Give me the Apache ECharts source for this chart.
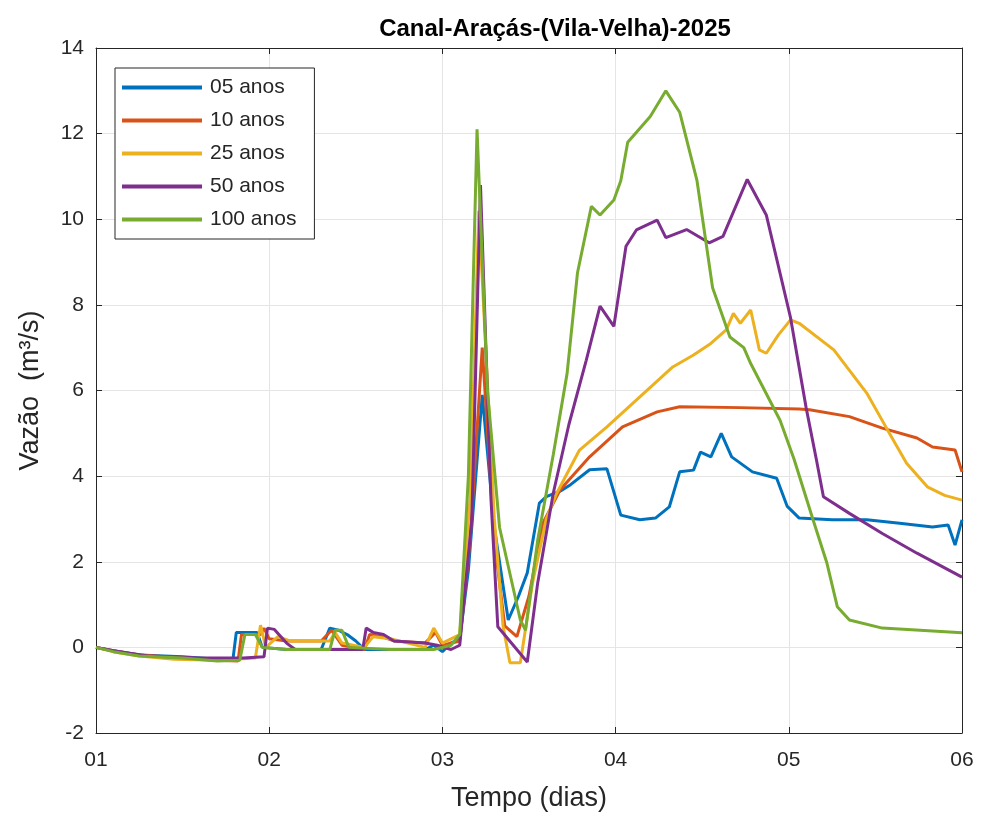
<!DOCTYPE html>
<html>
<head>
<meta charset="utf-8">
<script src="https://cdn.jsdelivr.net/npm/echarts@6/dist/echarts.min.js"></script>
<style>
  html, body { margin: 0; padding: 0; background: #fff; }
  #chart { width: 981px; height: 818px; }
</style>
</head>
<body>
<div id="chart"></div>
<script>
// dados: [dia, vazão m3/s]
var xTicks = [1, 2, 3, 4, 5, 6];
var yTicks = [-2, 0, 2, 4, 6, 8, 10, 12, 14];
var names = ['05 anos', '10 anos', '25 anos', '50 anos', '100 anos'];

var tr05 = [[1.00,0.00],[1.10,-0.08],[1.25,-0.18],[1.50,-0.22],[1.70,-0.28],[1.79,-0.30],[1.81,0.35],[1.93,0.35],[1.96,0.00],[2.10,-0.05],[2.30,-0.05],[2.35,0.45],[2.40,0.40],[2.45,0.30],[2.50,0.15],[2.55,-0.05],[2.70,-0.05],[2.90,-0.05],[2.95,0.05],[3.00,-0.10],[3.05,0.10],[3.10,0.20],[3.15,1.80],[3.23,5.90],[3.30,2.80],[3.38,0.64],[3.44,1.20],[3.49,1.74],[3.56,3.37],[3.60,3.52],[3.68,3.65],[3.74,3.80],[3.85,4.15],[3.95,4.17],[4.03,3.09],[4.14,2.98],[4.23,3.02],[4.31,3.28],[4.37,4.10],[4.45,4.14],[4.49,4.56],[4.55,4.45],[4.61,5.00],[4.67,4.45],[4.79,4.10],[4.93,3.95],[4.99,3.30],[5.06,3.02],[5.25,2.98],[5.45,2.98],[5.64,2.90],[5.83,2.81],[5.92,2.86],[5.96,2.39],[6.00,2.98]];
var tr10 = [[1.00,0.00],[1.10,-0.08],[1.25,-0.18],[1.50,-0.24],[1.70,-0.30],[1.82,-0.32],[1.84,0.30],[1.95,0.30],[1.97,0.45],[2.00,0.20],[2.10,0.15],[2.30,0.15],[2.36,0.40],[2.42,0.05],[2.55,-0.05],[2.58,0.30],[2.65,0.25],[2.72,0.15],[2.90,0.10],[2.96,0.35],[3.00,0.05],[3.10,0.15],[3.16,2.50],[3.23,7.00],[3.30,2.50],[3.36,0.50],[3.43,0.25],[3.50,1.20],[3.58,2.90],[3.68,3.68],[3.85,4.45],[4.04,5.15],[4.24,5.50],[4.37,5.62],[4.72,5.60],[5.06,5.57],[5.12,5.55],[5.35,5.39],[5.54,5.12],[5.74,4.89],[5.83,4.68],[5.96,4.61],[6.00,4.10]];
var tr25 = [[1.00,0.00],[1.10,-0.10],[1.25,-0.20],[1.45,-0.28],[1.70,-0.30],[1.92,-0.25],[1.95,0.52],[1.98,0.00],[2.05,0.25],[2.12,0.15],[2.35,0.15],[2.38,0.35],[2.42,0.10],[2.55,0.00],[2.60,0.25],[2.70,0.20],[2.80,0.10],[2.90,0.00],[2.95,0.45],[3.00,0.10],[3.10,0.30],[3.16,3.50],[3.21,10.2],[3.30,3.00],[3.35,0.50],[3.39,-0.36],[3.45,-0.36],[3.52,1.50],[3.60,3.00],[3.66,3.60],[3.79,4.60],[3.95,5.15],[4.14,5.85],[4.33,6.55],[4.45,6.83],[4.55,7.10],[4.64,7.42],[4.68,7.80],[4.72,7.57],[4.78,7.88],[4.83,6.95],[4.87,6.87],[4.94,7.30],[5.01,7.65],[5.06,7.57],[5.26,6.95],[5.45,5.94],[5.57,5.08],[5.68,4.30],[5.80,3.75],[5.90,3.55],[6.00,3.44]];
var tr50 = [[1.00,0.00],[1.10,-0.08],[1.30,-0.20],[1.60,-0.25],[1.85,-0.25],[1.97,-0.22],[1.99,0.45],[2.03,0.42],[2.10,0.10],[2.15,-0.05],[2.40,-0.05],[2.54,-0.05],[2.56,0.45],[2.60,0.35],[2.66,0.30],[2.72,0.15],[2.90,0.10],[2.97,0.05],[3.05,-0.05],[3.10,0.05],[3.17,3.00],[3.22,10.8],[3.28,3.50],[3.32,0.48],[3.49,-0.34],[3.55,1.50],[3.64,3.60],[3.73,5.20],[3.83,6.70],[3.91,7.97],[3.99,7.50],[4.06,9.37],[4.12,9.75],[4.24,9.98],[4.29,9.57],[4.41,9.76],[4.54,9.45],[4.62,9.60],[4.76,10.93],[4.87,10.10],[5.01,7.70],[5.10,5.60],[5.16,4.37],[5.20,3.52],[5.35,3.13],[5.54,2.66],[5.74,2.20],[6.00,1.64]];
var tr100 = [[1.00,0.00],[1.10,-0.10],[1.25,-0.20],[1.50,-0.25],[1.70,-0.32],[1.83,-0.30],[1.86,0.30],[1.92,0.30],[1.96,0.00],[2.10,-0.05],[2.35,-0.05],[2.38,0.40],[2.42,0.40],[2.46,0.00],[2.70,-0.05],[2.95,-0.05],[3.05,0.05],[3.10,0.30],[3.15,4.00],[3.20,12.1],[3.26,6.00],[3.33,2.80],[3.45,0.64],[3.48,0.40],[3.55,2.50],[3.64,4.50],[3.72,6.40],[3.78,8.75],[3.86,10.3],[3.91,10.1],[3.99,10.45],[4.03,10.9],[4.07,11.8],[4.20,12.4],[4.29,13.0],[4.37,12.5],[4.47,10.9],[4.56,8.40],[4.66,7.25],[4.74,7.00],[4.78,6.63],[4.95,5.30],[5.03,4.40],[5.14,2.98],[5.22,1.97],[5.28,0.95],[5.35,0.64],[5.54,0.45],[6.00,0.34]];

var seriesData = [tr05, tr10, tr25, tr50, tr100];
var cores = ['#0072BD', '#D95319', '#EDB120', '#7E2F8E', '#77AC30'];
var fonte = 'Liberation Sans, Arial, sans-serif';

var chart = echarts.init(document.getElementById('chart'));

var eixoBase = {
    type: 'value',
    axisLine: { show: true, onZero: false, lineStyle: { color: '#262626', width: 1 } },
    axisTick: { show: true, inside: true, length: 6, lineStyle: { color: '#262626' } },
    splitLine: { show: false }
};

var option = {
    animation: false,
    color: cores,
    title: {
        text: 'Canal-Araçás-(Vila-Velha)-2025',
        left: 550,
        top: 12,
        textAlign: 'center',
        textStyle: { fontFamily: fonte, fontSize: 24, fontWeight: 'bold', color: '#000' }
    },
    legend: {
        orient: 'vertical',
        left: 115,
        top: 68,
        padding: [9, 18, 9, 7],
        icon: 'rect',
        itemWidth: 80,
        itemHeight: 4,
        itemGap: 12,
        borderColor: '#262626',
        borderWidth: 1,
        backgroundColor: '#fff',
        textStyle: { fontFamily: fonte, fontSize: 21, color: '#262626', lineHeight: 21, padding: [0, 0, 0, 3] },
        data: names
    },
    grid: { left: 96, right: 19, top: 48, bottom: 85 },
    xAxis: [
        Object.assign({}, eixoBase, {
            min: xTicks[0], max: xTicks[xTicks.length - 1], interval: 1,
            position: 'bottom',
            name: 'Tempo (dias)',
            nameLocation: 'middle',
            nameGap: 52,
            nameTextStyle: { fontFamily: fonte, fontSize: 27, color: '#262626' },
            axisLabel: {
                fontFamily: fonte, fontSize: 21, color: '#262626', margin: 17,
                formatter: function (v) { return (v < 10 ? '0' : '') + v; }
            },
            splitLine: { show: true, lineStyle: { color: '#e5e5e5', width: 1 } }
        }),
        Object.assign({}, eixoBase, {
            min: xTicks[0], max: xTicks[xTicks.length - 1], interval: 1,
            position: 'top',
            axisLabel: { show: false }
        })
    ],
    yAxis: [
        Object.assign({}, eixoBase, {
            min: yTicks[0], max: yTicks[yTicks.length - 1], interval: 2,
            position: 'left',
            name: 'Vazão  (m³/s)',
            nameLocation: 'middle',
            nameGap: 52,
            nameRotate: 90,
            nameTextStyle: { fontFamily: fonte, fontSize: 27, color: '#262626' },
            axisLabel: { fontFamily: fonte, fontSize: 21, color: '#262626', margin: 12 },
            splitLine: { show: true, lineStyle: { color: '#e5e5e5', width: 1 } }
        }),
        Object.assign({}, eixoBase, {
            min: yTicks[0], max: yTicks[yTicks.length - 1], interval: 2,
            position: 'right',
            axisLabel: { show: false }
        })
    ],
    series: seriesData.map(function (d, i) {
        return {
            name: names[i],
            type: 'line',
            data: d,
            symbol: 'none',
            lineStyle: { width: 3, color: cores[i] },
            itemStyle: { color: cores[i] }
        };
    })
};

chart.setOption(option);
</script>
</body>
</html>
